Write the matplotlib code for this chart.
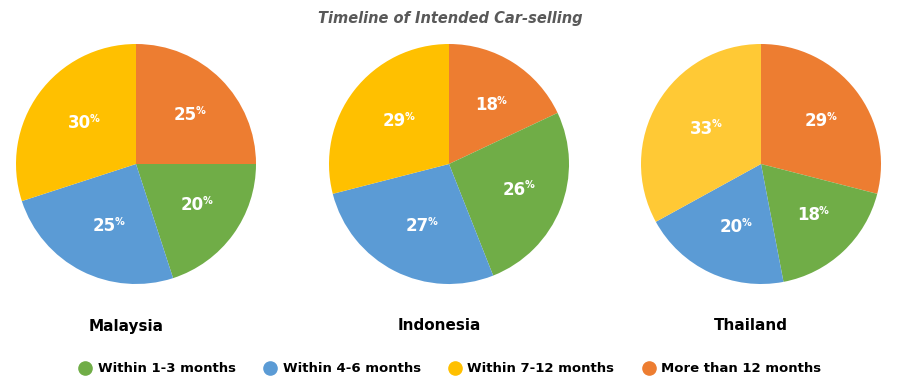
import matplotlib.pyplot as plt
from matplotlib.lines import Line2D

plt.rcParams['font.family'] = ['DejaVu Sans']

# 数据
countries = ['Malaysia', 'Indonesia', 'Thailand']
categories = ['Within 1-3 months', 'Within 4-6 months', 'Within 7-12 months', 'More than 12 months']
# 顺序: 从12点方向顺时针 -> 橙, 绿, 蓝, 黄
malaysia = [25, 20, 25, 30]
indonesia = [18, 26, 27, 29]
thailand = [29, 18, 20, 33]
values = [malaysia, indonesia, thailand]

green, blue, orange = '#70AD47', '#5B9BD5', '#ED7D31'
yellows = ['#FFC000', '#FFC000', '#FFC935']

fig = plt.figure(figsize=(9, 3.88), dpi=100)
fig.text(0.5, 0.953, 'Timeline of Intended Car-selling', ha='center', va='center',
         fontsize=10.5, fontstyle='italic', fontweight='bold', color='#595959')

centers_x = [136, 449, 761]
r_px = 120
for i, (name, vals) in enumerate(zip(countries, values)):
    cx = centers_x[i]
    ax = fig.add_axes([(cx - r_px) / 900, (388 - 164 - r_px) / 388, 2 * r_px / 900, 2 * r_px / 388])
    cols = [orange, green, blue, yellows[i]]
    wedges, _, autotexts = ax.pie(vals, colors=cols, startangle=90, counterclock=False,
                                  autopct=lambda p: '%d' % round(p), pctdistance=0.58,
                                  wedgeprops=dict(linewidth=0))
    for t in autotexts:
        t.set_color('white')
        t.set_fontsize(12)
        t.set_fontweight('bold')
        x, y = t.get_position()
        ax.annotate('%', (x, y), xytext=(7.5, 3), textcoords='offset points',
                    color='white', fontsize=7, fontweight='bold', ha='left', va='center')
    ax.set_xlim(-1, 1)
    ax.set_ylim(-1, 1)
    ax.axis('off')
    fig.text((cx - 10) / 900, 1 - 326 / 388, name, ha='center', va='center',
             fontsize=11, fontweight='bold', color='black')

handles = [Line2D([0], [0], marker='o', linestyle='', markersize=9.5, color=c)
           for c in [green, blue, yellows[0], orange]]
fig.legend(handles, categories, loc='center', bbox_to_anchor=(0.5, 1 - 369 / 388), ncol=4,
           frameon=False, prop=dict(weight='bold', size=9.5), handletextpad=0.45,
           columnspacing=2.1, handlelength=1)

plt.savefig('out.png', dpi=100)
